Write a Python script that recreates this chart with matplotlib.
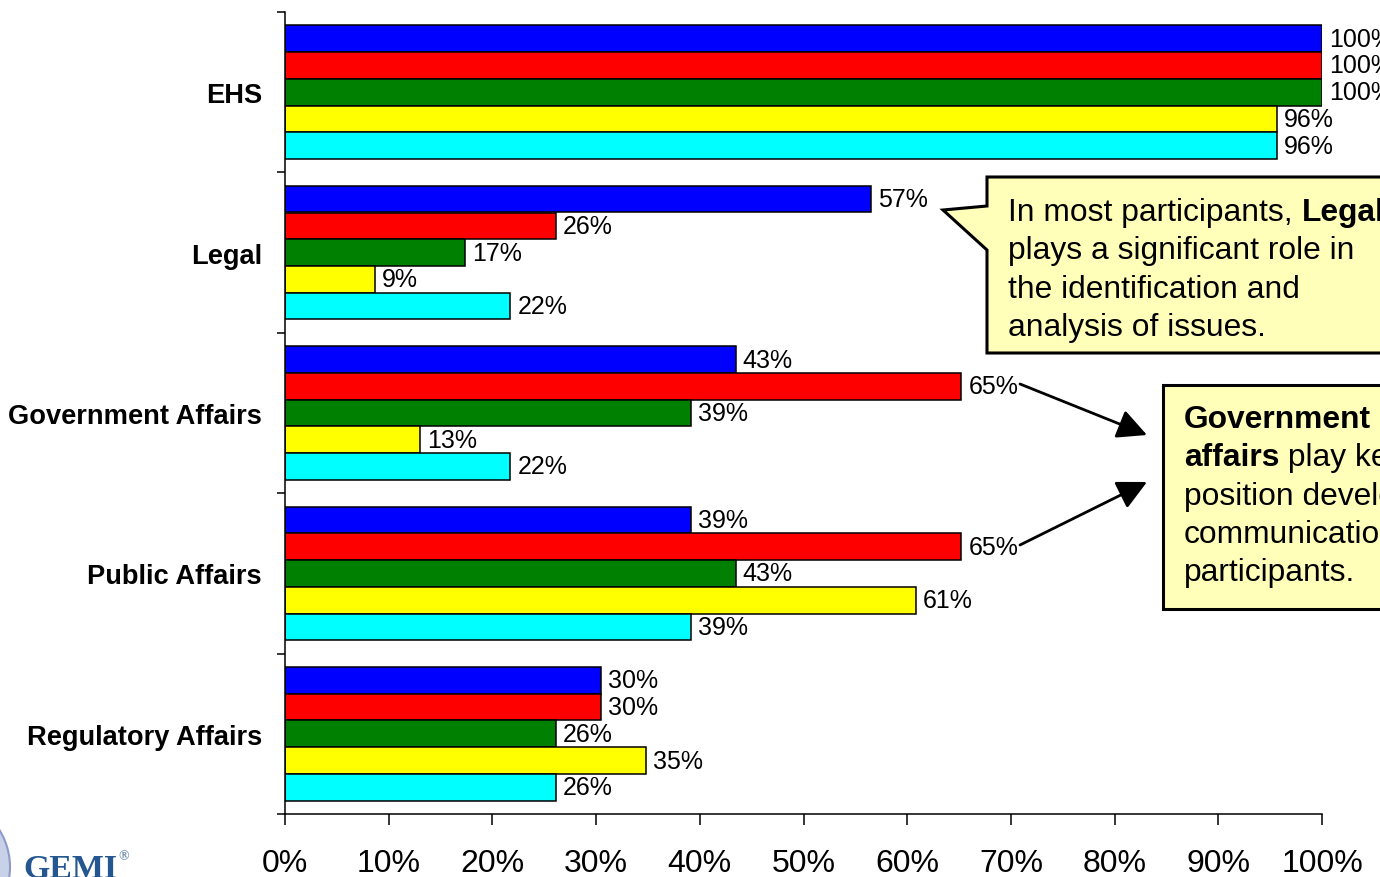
"""Functions involved in issue management, by participant group (horizontal bars)."""

import matplotlib
matplotlib.use("Agg")
import matplotlib.pyplot as plt
from matplotlib.patches import Circle, Polygon, Rectangle

plt.rcParams["font.family"] = ["Liberation Sans", "DejaVu Sans"]

W, H = 1380, 878

CATEGORIES = ["EHS", "Legal", "Government Affairs", "Public Affairs", "Regulatory Affairs"]
SERIES_COLORS = ["#0000FF", "#FF0000", "#008000", "#FFFF00", "#00FFFF"]

# one list per coloured series, in category order
BLUE = [100, 56.52, 43.48, 39.13, 30.43]
RED = [100, 26.09, 65.22, 65.22, 30.43]
GREEN = [100, 17.39, 39.13, 43.48, 26.09]
YELLOW = [95.65, 8.7, 13.04, 60.87, 34.78]
CYAN = [95.65, 21.74, 21.74, 39.13, 26.09]
SERIES = [BLUE, RED, GREEN, YELLOW, CYAN]

X_TICKS = [0, 10, 20, 30, 40, 50, 60, 70, 80, 90, 100]

BOX_FILL = "#FFFFB9"
TEXT_SIZE = 22.9

fig = plt.figure(figsize=(W / 100, H / 100), dpi=100, facecolor="white")
ax = fig.add_axes([285 / W, 1 - 815 / H, 1037 / W, (815 - 13) / H])

bar_h = 1 / 6
for j, (vals, col) in enumerate(zip(SERIES, SERIES_COLORS)):
    ypos = [i + (j - 2) * bar_h for i in range(len(CATEGORIES))]
    ax.barh(ypos, vals, height=bar_h, color=col, edgecolor="black", linewidth=1.1, zorder=2)
    for y, v in zip(ypos, vals):
        ax.annotate(f"{v:.0f}%", (v, y), xytext=(5, 0), textcoords="offset points",
                    va="center", ha="left", fontsize=18, color="black",
                    annotation_clip=False, zorder=3)

ax.set_xlim(0, 100)
ax.set_ylim(len(CATEGORIES) - 0.5, -0.5)

# ticks sit on the group boundaries, labels in the middle of each group
ax.set_yticks([i - 0.5 for i in range(len(CATEGORIES) + 1)])
ax.set_yticklabels([])
ax.set_yticks(range(len(CATEGORIES)), minor=True)
ax.set_yticklabels(CATEGORIES, minor=True, fontsize=19.6, fontweight="bold")
ax.tick_params(axis="y", which="major", length=6, width=1.1, direction="out")
ax.tick_params(axis="y", which="minor", length=0, pad=16.5)

ax.set_xticks(X_TICKS)
ax.set_xticklabels([f"{t}%" for t in X_TICKS], fontsize=23)
ax.tick_params(axis="x", length=8, width=1.1, direction="out", pad=16.5)

for side in ("top", "right"):
    ax.spines[side].set_visible(False)
for side in ("left", "bottom"):
    ax.spines[side].set_linewidth(1.1)

# overlay in pixel coordinates for callouts and logo
ov = fig.add_axes([0, 0, 1, 1], facecolor="none")
ov.set_xlim(0, W)
ov.set_ylim(H, 0)
ov.axis("off")

# Legal callout with its pointer
ov.add_patch(Polygon(
    [(987, 178), (1392, 178), (1392, 354), (987, 354), (987, 251), (943, 211), (987, 207)],
    closed=True, facecolor=BOX_FILL, edgecolor="black", linewidth=2.2, zorder=4))

# Government / public affairs box
ov.add_patch(Rectangle((1163, 386), 240, 224, facecolor=BOX_FILL, edgecolor="black",
                       linewidth=2.2, zorder=4))

for start, end in [((1020, 385), (1147, 436)), ((1020, 546), (1147, 483))]:
    ov.annotate("", xy=end, xytext=start, zorder=4,
                arrowprops=dict(arrowstyle="-|>,head_length=1.0,head_width=0.5", color="black",
                                linewidth=2, mutation_scale=18, shrinkA=0, shrinkB=0))


def mixed_line(x, y, parts):
    # parts: (string, bold?) pieces placed one after another on a shared baseline
    rend = fig.canvas.get_renderer()
    for s, bold in parts:
        weight = "bold" if bold else "normal"
        ov.text(x, y, s, fontsize=TEXT_SIZE, fontweight=weight,
                ha="left", va="baseline", color="black", zorder=5)
        # trailing spaces are dropped from the extent, so measure with a closing bar
        probe = ov.text(0, 0, s + "|", fontsize=TEXT_SIZE, fontweight=weight)
        bar = ov.text(0, 0, "|", fontsize=TEXT_SIZE, fontweight=weight)
        x += probe.get_window_extent(rend).width - bar.get_window_extent(rend).width
        probe.remove()
        bar.remove()


LEGAL_LINES = [
    [("In most participants, ", False), ("Legal", True)],
    [("plays a significant role in", False)],
    [("the identification and", False)],
    [("analysis of issues.", False)],
]
for k, parts in enumerate(LEGAL_LINES):
    mixed_line(1008, 221 + k * 38.5, parts)

GOV_LINES = [
    [("Government", True)],
    [("affairs", True), (" play key", False)],
    [("position development", False)],
    [("communications", False)],
    [("participants.", False)],
]
for k, parts in enumerate(GOV_LINES):
    mixed_line(1184, 428 + k * 38.3, parts)

# logo in the bottom-left corner
ov.add_patch(Circle((-60, 868), 70, facecolor="#C9D1E8", edgecolor="#8C9BC8", linewidth=1.5, zorder=1))
ov.text(23, 878, "GEMI", family="Liberation Serif", fontweight="bold", fontsize=24.4,
        color="#24568F", ha="left", va="baseline", zorder=5)
ov.text(118, 860, "®", family="Liberation Serif", fontweight="bold", fontsize=10, color="#6F8CB0",
        ha="left", va="baseline", zorder=5)

fig.savefig("out.png", dpi=100, facecolor="white")
